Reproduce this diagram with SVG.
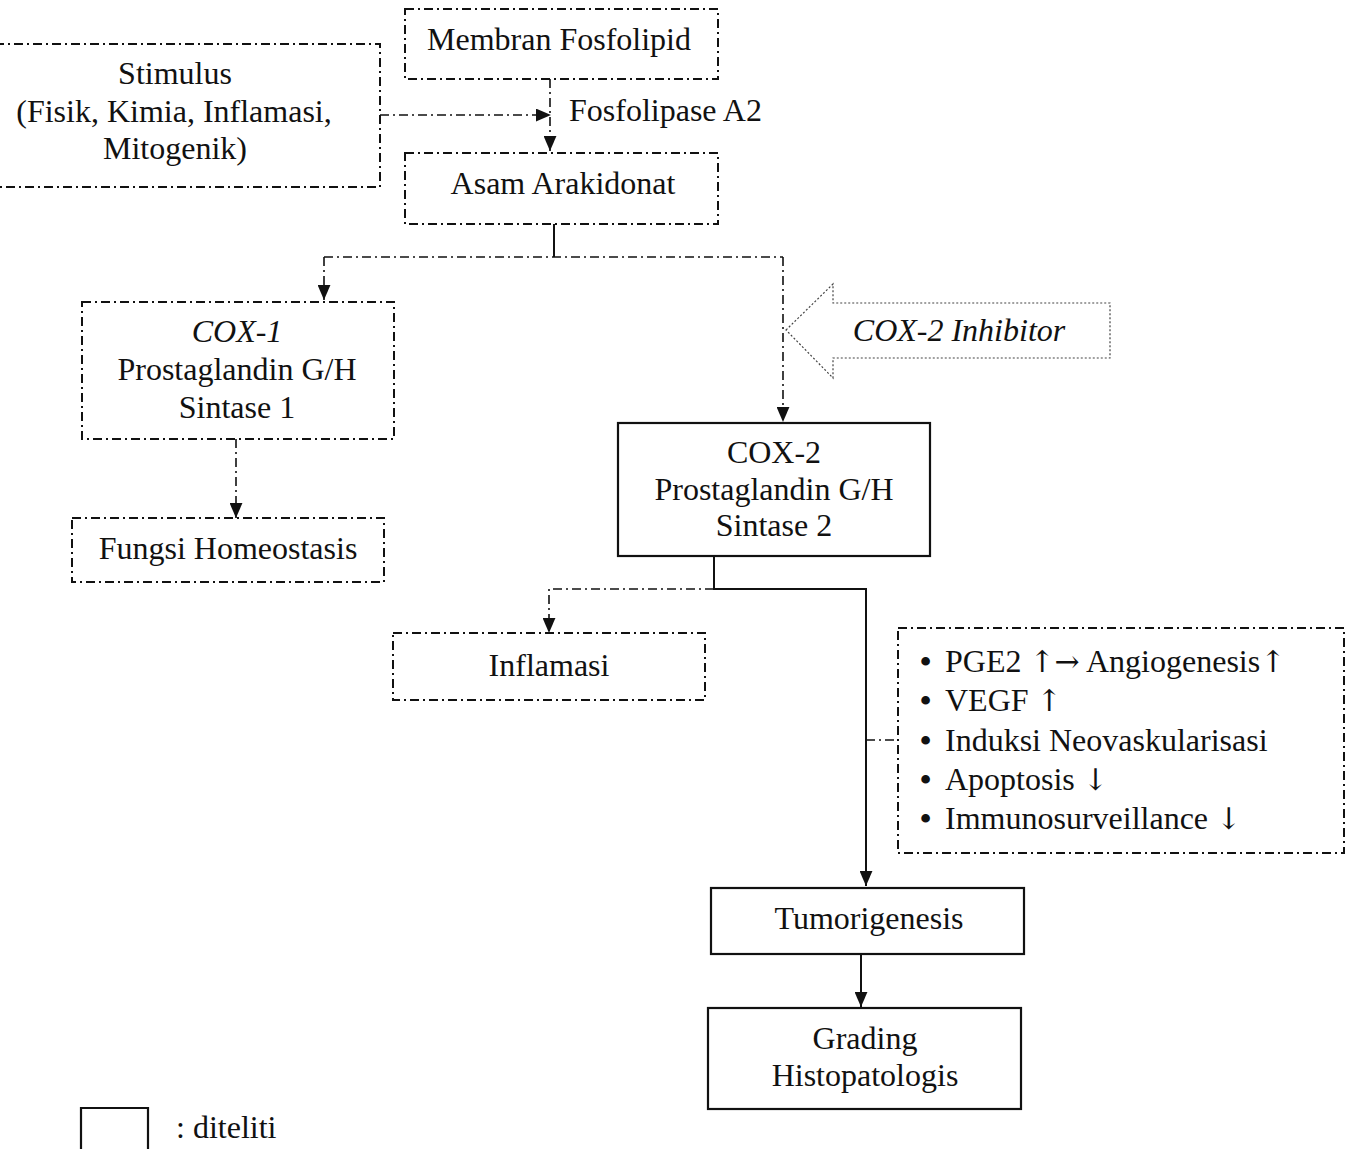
<svg xmlns="http://www.w3.org/2000/svg" width="1354" height="1149" viewBox="0 0 1354 1149">
<defs>
<style>
.t{font-family:"Liberation Serif","Times New Roman",serif;font-size:32px;fill:#111;text-anchor:middle;dominant-baseline:central}
.tl{text-anchor:start}
.it{font-style:italic}
.ar{font-family:"DejaVu Serif","Liberation Serif",serif;font-size:30px}
.bu{font-weight:bold}
.dd{fill:none;stroke:#111;stroke-width:2;stroke-dasharray:9 4 2 4}
.sb{fill:none;stroke:#111;stroke-width:2.2}
.cd{fill:none;stroke:#111;stroke-width:1.6;stroke-dasharray:9 4 2 4}
.cs{fill:none;stroke:#111;stroke-width:2}
</style>
<marker id="ah" viewBox="0 0 14 12" refX="14" refY="6" markerWidth="15" markerHeight="13" markerUnits="userSpaceOnUse" orient="auto">
<path d="M0,0 L14,6 L0,12 Z" fill="#111"/>
</marker>
</defs>
<rect width="1354" height="1149" fill="#fff"/>

<g id="connectors">
<path class="cd" d="M550,79 V151" marker-end="url(#ah)"/>
<path class="cd" d="M380,115 H551" marker-end="url(#ah)"/>
<path class="cs" d="M554,224 V257"/>
<path class="cd" d="M324,257 H783"/>
<path class="cd" d="M324,257 V300" marker-end="url(#ah)"/>
<path class="cd" d="M783,257 V422" marker-end="url(#ah)"/>
<path class="cd" d="M236,439 V518" marker-end="url(#ah)"/>
<path class="cs" d="M714,556 V589 H866 V886" marker-end="url(#ah)"/>
<path class="cd" d="M714,589 H549 V633" marker-end="url(#ah)"/>
<path class="cd" d="M866,740 H898"/>
<path class="cs" d="M861,954 V1007" marker-end="url(#ah)"/>
</g>

<g id="stimulus">
<path class="dd" d="M-5,44 H380 V187 H-5"/>
<text class="t" x="175" y="73">Stimulus</text>
<text class="t" x="174" y="111">(Fisik, Kimia, Inflamasi,</text>
<text class="t" x="175" y="148">Mitogenik)</text>
</g>

<g id="membran">
<rect class="dd" x="405" y="9" width="313" height="70"/>
<text class="t" x="559" y="39">Membran Fosfolipid</text>
</g>

<g id="fosfolipase">
<text class="t tl" x="569" y="110">Fosfolipase A2</text>
</g>

<g id="asam">
<rect class="dd" x="405" y="153" width="313" height="71"/>
<text class="t" x="563" y="183">Asam Arakidonat</text>
</g>

<g id="cox1">
<rect class="dd" x="82" y="302" width="312" height="137"/>
<text class="t it" x="237" y="331">COX-1</text>
<text class="t" x="237" y="369">Prostaglandin G/H</text>
<text class="t" x="237" y="407">Sintase 1</text>
</g>

<g id="fungsi">
<rect class="dd" x="72" y="518" width="312" height="64"/>
<text class="t" x="228" y="548">Fungsi Homeostasis</text>
</g>

<g id="inhibitor">
<path d="M786,330 L833,284 L833,303 L1110,303 L1110,358 L833,358 L833,378 Z" fill="none" stroke="#444" stroke-width="1.2" stroke-dasharray="2 2"/>
<text class="t it" x="959" y="330">COX-2 Inhibitor</text>
</g>

<g id="cox2">
<rect class="sb" x="618" y="423" width="312" height="133"/>
<text class="t" x="774" y="452">COX-2</text>
<text class="t" x="774" y="489">Prostaglandin G/H</text>
<text class="t" x="774" y="525">Sintase  2</text>
</g>

<g id="inflamasi">
<rect class="dd" x="393" y="633" width="312" height="67"/>
<text class="t" x="549" y="665">Inflamasi</text>
</g>

<g id="effects">
<rect class="dd" x="898" y="628" width="446" height="225"/>
<text class="t tl" x="920" y="661"><tspan class="bu">•</tspan><tspan x="945">PGE2  </tspan><tspan class="ar">↑→</tspan> Angiogenesis<tspan class="ar">↑</tspan></text>
<text class="t tl" x="920" y="700"><tspan class="bu">•</tspan><tspan x="945">VEGF </tspan><tspan class="ar">↑</tspan></text>
<text class="t tl" x="920" y="740"><tspan class="bu">•</tspan><tspan x="945">Induksi Neovaskularisasi</tspan></text>
<text class="t tl" x="920" y="779"><tspan class="bu">•</tspan><tspan x="945">Apoptosis </tspan><tspan class="ar">↓</tspan></text>
<text class="t tl" x="920" y="818"><tspan class="bu">•</tspan><tspan x="945">Immunosurveillance </tspan><tspan class="ar">↓</tspan></text>
</g>

<g id="tumorigenesis">
<rect class="sb" x="711" y="888" width="313" height="66"/>
<text class="t" x="869" y="918">Tumorigenesis</text>
</g>

<g id="grading">
<rect class="sb" x="708" y="1008" width="313" height="101"/>
<text class="t" x="865" y="1038">Grading</text>
<text class="t" x="865" y="1075">Histopatologis</text>
</g>

<g id="legend">
<path class="sb" d="M81,1152 V1108 H148 V1152"/>
<text class="t tl" x="176" y="1127">: diteliti</text>
</g>
</svg>
